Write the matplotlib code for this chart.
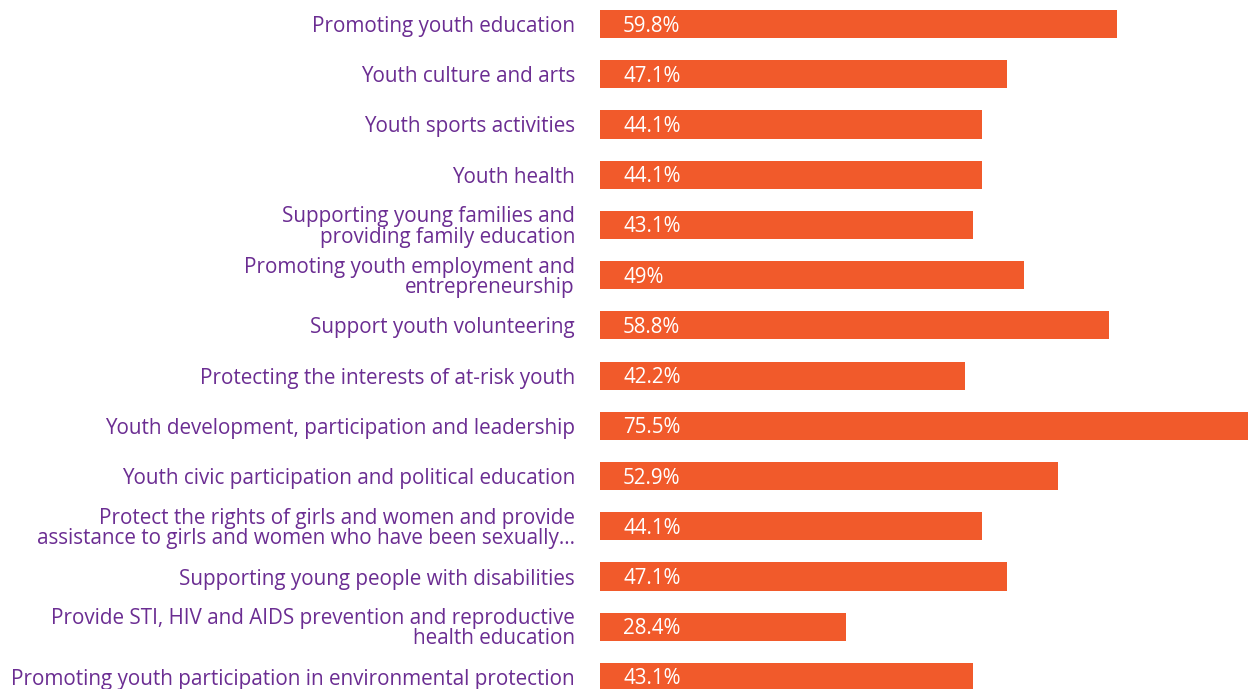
import matplotlib.pyplot as plt

categories = [
    "Promoting youth education",
    "Youth culture and arts",
    "Youth sports activities",
    "Youth health",
    "Supporting young families and\nproviding family education",
    "Promoting youth employment and\nentrepreneurship",
    "Support youth volunteering",
    "Protecting the interests of at-risk youth",
    "Youth development, participation and leadership",
    "Youth civic participation and political education",
    "Protect the rights of girls and women and provide\nassistance to girls and women who have been sexually...",
    "Supporting young people with disabilities",
    "Provide STI, HIV and AIDS prevention and reproductive\nhealth education",
    "Promoting youth participation in environmental protection",
]
values = [59.8, 47.1, 44.1, 44.1, 43.1, 49, 58.8, 42.2, 75.5, 52.9, 44.1, 47.1, 28.4, 43.1]
value_labels = ["59.8%", "47.1%", "44.1%", "44.1%", "43.1%", "49%", "58.8%", "42.2%",
                "75.5%", "52.9%", "44.1%", "47.1%", "28.4%", "43.1%"]

PURPLE = "#6B2D92"
ORANGE = "#F15A2B"

plt.rcParams["font.family"] = ["Open Sans", "DejaVu Sans"]

fig = plt.figure(figsize=(12.48, 6.89), dpi=100)
ax = fig.add_axes([600 / 1248, 0, 648 / 1248, 1])

pos = list(range(len(categories)))
ax.barh(pos, values, height=0.56, color=ORANGE)
ax.set_xlim(0, 74.9)
ax.set_ylim(13 + 12 / 50.23, -24 / 50.23)

# value labels sit inside the bar, near its start
for y, v, lab in zip(pos, values, value_labels):
    ax.annotate(lab, xy=(0, y), xytext=(23, -2), textcoords="offset pixels",
                ha="left", va="center", color="white", fontsize=14.8)

ax.set_yticks(pos)
ax.set_yticklabels(categories, fontsize=14.9, color=PURPLE)
for t in ax.get_yticklabels():
    t.set_linespacing(0.95)
ax.tick_params(axis="y", length=0, pad=18)
ax.set_xticks([])
for s in ax.spines.values():
    s.set_visible(False)

fig.savefig("out.png", dpi=100)
